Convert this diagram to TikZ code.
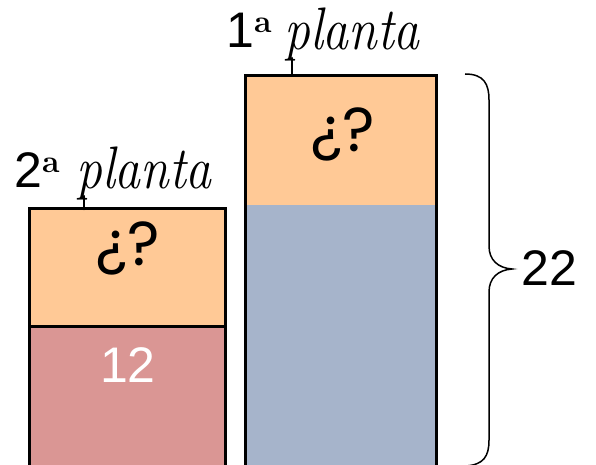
\documentclass[tikz,border=0pt]{standalone}
\usepackage{fontspec}
\newfontfamily\geofont{Poppins}
\newfontfamily\arialfont{Liberation Sans}
\definecolor{boxorange}{HTML}{FFC996}
\definecolor{boxred}{HTML}{DA9694}
\definecolor{boxblue}{HTML}{A6B4CB}
\newcommand{\ordA}{\raisebox{15pt}{\rmfamily\bfseries\fontsize{32}{36}\selectfont a}}
\newcommand{\plantaword}{\scalebox{0.86}[1]{\itshape\fontsize{60}{72}\selectfont planta}}
\tikzset{
  boxline/.style={line width=3pt, line cap=butt},
  qtxt/.style={inner sep=0pt, font=\geofont\fontsize{62}{72}\selectfont},
  numtxt/.style={inner sep=0pt, font=\arialfont\fontsize{50}{60}\selectfont},
  lbltxt/.style={inner sep=0pt, anchor=base west, font=\arialfont\fontsize{50}{60}\selectfont},
  plantatxt/.style={inner sep=0pt, anchor=base west},
  stem/.style={line width=2.6pt, line cap=round},
  bracestyle/.style={line width=1.5pt}
}
\begin{document}
\begin{tikzpicture}[x=1pt,y=-1pt]
\useasboundingbox (0,0) rectangle (596,465);
% left box
\fill[boxorange] (30,208) rectangle (226,326);
\fill[boxred] (30,326) rectangle (226,466);
\draw[boxline] (29.5,467) -- (29.5,208.5) -- (225.5,208.5) -- (225.5,467);
\draw[boxline] (29.5,326) -- (225.5,326);
% right box
\fill[boxorange] (245,75) rectangle (437,205);
\fill[boxblue] (245,205) rectangle (437,466);
\draw[boxline] (245.5,467) -- (245.5,75.5) -- (436.5,75.5) -- (436.5,467);
% texts
\node[qtxt] (q2) at (128,248) {¿?};
\node[qtxt] (q1) at (343,134) {¿?};
\node[numtxt, text=white] (n12) at (128,365) {12};
\node[numtxt] (n22) at (549,268) {22};
% labels
\node[lbltxt] (l2) at (14,187) {2\ordA};
\node[plantatxt] (p2) at (76,188) {\plantaword};
\draw[stem] (84,196) -- (84,209);
\node[lbltxt] (l1) at (226,48) {1\ordA};
\node[plantatxt] (p1) at (284,50) {\plantaword};
\draw[stem] (292,58) -- (292,75);
% brace
\draw[bracestyle] (465,74) .. controls (484,74) and (489,84) .. (489,100)
  -- (489,246) .. controls (489,260) and (498,268) .. (512,269)
  .. controls (498,270) and (489,278) .. (489,292)
  -- (489,440) .. controls (489,456) and (484,465) .. (465,466);
\end{tikzpicture}
\end{document}
